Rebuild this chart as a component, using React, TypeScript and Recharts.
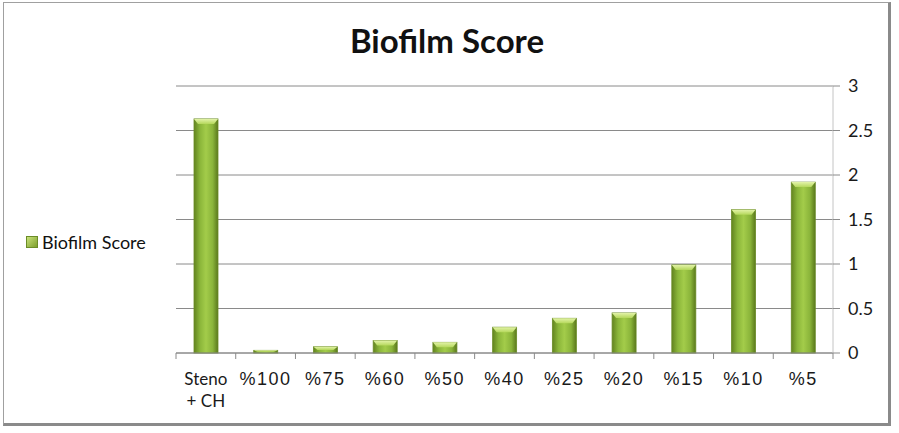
import React from 'react';
import { BarChart, Bar, XAxis, YAxis, CartesianGrid, Legend } from 'recharts';

const categories = ['Steno + CH', '%100', '%75', '%60', '%50', '%40', '%25', '%20', '%15', '%10', '%5'];
const biofilmScores = [2.63, 0.03, 0.07, 0.14, 0.12, 0.29, 0.39, 0.45, 0.99, 1.61, 1.92];
const yTicks = [0, 0.5, 1, 1.5, 2, 2.5, 3];

const chartData = categories.map((name, i) => ({ name, score: biofilmScores[i] }));

const calibriLike = 'Lato, "Open Sans", sans-serif';

// bar with a bevelled top and a horizontal shine, like the old Office look
const BevelBar = (props: any) => {
  const { x, y, width, height } = props;
  if (height <= 0) return null;
  const b = Math.min(5, height / 2);
  return (
    <g>
      <rect x={x} y={y} width={width} height={height} fill="url(#barShine)" stroke="#6b8c27" strokeWidth={0.8} />
      <polygon
        points={`${x},${y} ${x + width},${y} ${x + width - 4},${y + b} ${x + 4},${y + b}`}
        fill="url(#topShine)"
      />
    </g>
  );
};

const CategoryTick = (props: any) => {
  const { x, y, payload, index } = props;
  const half = payload.offset || 0;
  const label: string = payload.value;
  const lines = label.startsWith('Steno') ? ['Steno', '+ CH'] : [label];
  const isLast = index === categories.length - 1;
  const twoLine = lines.length > 1;
  return (
    <g>
      <line x1={x - half} x2={x - half} y1={y} y2={y + 6} stroke="#8a8a8a" />
      {isLast && <line x1={x + half} x2={x + half} y1={y} y2={y + 6} stroke="#8a8a8a" />}
      {lines.map((t, i) => (
        <text
          key={i}
          x={x}
          y={y + 32 + i * 22}
          textAnchor="middle"
          fontSize={twoLine ? 17 : 18}
          letterSpacing={twoLine ? 0 : 1.5}
          fontFamily={twoLine ? calibriLike : '"Liberation Sans", Arial, sans-serif'}
          fill="#1a1a1a"
        >
          {t}
        </text>
      ))}
    </g>
  );
};

const LegendBox = () => (
  <div style={{ display: 'flex', alignItems: 'center', fontFamily: calibriLike, fontSize: 18, color: '#111' }}>
    <span
      style={{
        display: 'inline-block',
        width: 10,
        height: 10,
        marginRight: 4,
        background: 'linear-gradient(135deg, #c9e27a, #7c9e2c)',
        border: '1px solid #6b8c27',
      }}
    />
    Biofilm Score
  </div>
);

export default function App() {
  return (
    <div
      style={{
        position: 'absolute',
        left: 0,
        top: 0,
        width: 899,
        height: 433,
        background: '#fff',
      }}
    >
      <div
        style={{
          position: 'absolute',
          left: 3,
          top: 2,
          width: 884,
          height: 420,
          border: '1px solid #a0a0a0',
          borderRight: '3px solid #8a8a8a',
          borderBottom: '3px solid #8a8a8a',
        }}
      />
      <div
        style={{
          position: 'absolute',
          left: 0,
          top: 20,
          width: 894,
          textAlign: 'center',
          fontFamily: calibriLike,
          fontWeight: 700,
          fontSize: 33,
          lineHeight: '40px',
          color: '#111',
        }}
      >
        Biofilm Score
      </div>
      <div style={{ position: 'absolute', left: 0, top: 0 }}>
        <BarChart
          width={899}
          height={433}
          data={chartData}
          margin={{ top: 86, right: 16, left: 176, bottom: 0 }}
          barCategoryGap="60%"
        >
          <defs>
            <linearGradient id="barShine" x1="0" y1="0" x2="1" y2="0">
              <stop offset="0%" stopColor="#62831f" />
              <stop offset="25%" stopColor="#8bb63a" />
              <stop offset="50%" stopColor="#a3cc4a" />
              <stop offset="78%" stopColor="#8ab43a" />
              <stop offset="100%" stopColor="#5a781c" />
            </linearGradient>
            <linearGradient id="topShine" x1="0" y1="0" x2="0" y2="1">
              <stop offset="0%" stopColor="#e3f3a8" />
              <stop offset="100%" stopColor="#b5d85c" />
            </linearGradient>
          </defs>
          <CartesianGrid horizontal vertical={false} stroke="#8a8a8a" />
          <XAxis
            dataKey="name"
            height={80}
            interval={0}
            tickLine={false}
            tickSize={0}
            tickMargin={0}
            axisLine={{ stroke: '#8a8a8a' }}
            tick={<CategoryTick />}
          />
          <YAxis
            orientation="right"
            width={50}
            domain={[0, 3]}
            ticks={yTicks}
            interval={0}
            axisLine={{ stroke: '#c4c4c4' }}
            tickLine={{ stroke: '#8a8a8a' }}
            tickSize={7}
            tickMargin={8}
            tick={{ fontSize: 18, fontFamily: calibriLike, fill: '#1a1a1a', textAnchor: 'start' }}
          />
          <Legend
            layout="horizontal"
            verticalAlign="middle"
            align="center"
            content={<LegendBox />}
            wrapperStyle={{ left: 26, top: 231, width: 160, height: 24 }}
          />
          <Bar dataKey="score" name="Biofilm Score" barSize={24} shape={<BevelBar />} isAnimationActive={false} />
        </BarChart>
      </div>
    </div>
  );
}
